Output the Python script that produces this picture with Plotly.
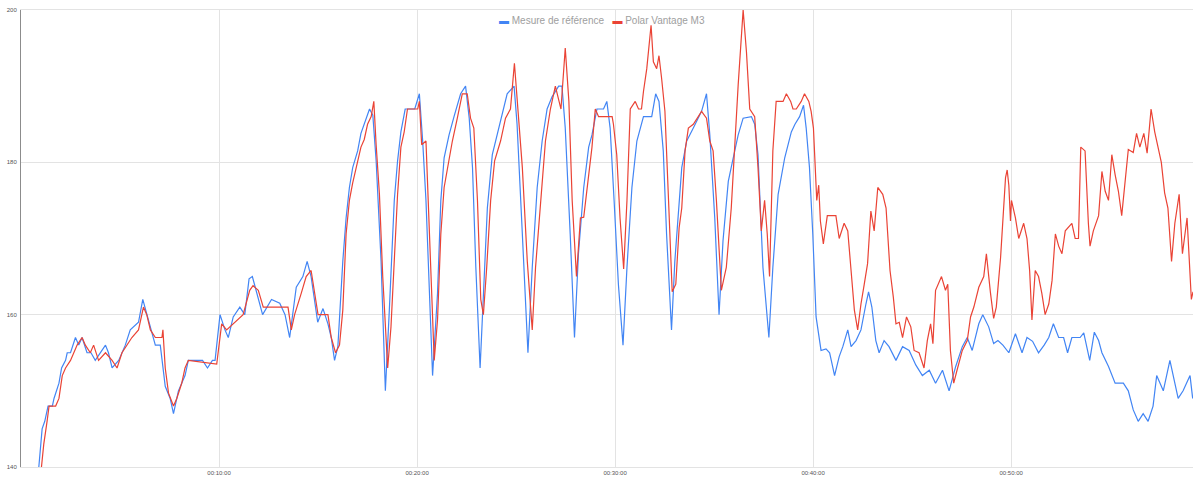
import plotly.graph_objects as go

# ---- Data (time in seconds since start, heart rate in bpm) ----
ref_name = "Mesure de référence"
ref_t = [54, 64, 72, 82, 95, 100, 115, 123, 135, 140, 150, 165, 175, 185, 200, 212, 225, 240, 256, 265,
         276, 296, 316, 331, 356, 369, 381, 396, 407, 422, 437, 452, 462, 477, 497, 507, 530, 550, 565, 580,
         588, 603, 618, 628, 643, 663, 678, 691, 701, 714, 732, 759, 784, 800, 814, 834, 854, 867, 879, 888,
         899, 915, 930, 940, 950, 960, 975, 985, 995, 1005, 1020, 1030, 1045, 1056, 1066, 1076, 1091, 1104, 1116, 1131,
         1141, 1151, 1164, 1181, 1193, 1207, 1217, 1227, 1237, 1247, 1262, 1272, 1282, 1297, 1312, 1332, 1347, 1358, 1368, 1378,
         1391, 1401, 1413, 1428, 1443, 1458, 1473, 1494, 1503, 1519, 1536, 1549, 1564, 1579, 1594, 1609, 1629, 1639, 1649, 1664,
         1677, 1689, 1705, 1720, 1730, 1745, 1765, 1775, 1785, 1797, 1810, 1824, 1836, 1851, 1866, 1886, 1911, 1923, 1933, 1946,
         1956, 1971, 1981, 2002, 2017, 2037, 2062, 2077, 2087, 2102, 2115, 2127, 2143, 2158, 2173, 2188, 2213, 2223, 2233, 2248,
         2266, 2278, 2294, 2314, 2334, 2345, 2359, 2371, 2379, 2389, 2399, 2409, 2414, 2424, 2439, 2450, 2459, 2465, 2479, 2490,
         2505, 2515, 2530, 2545, 2560, 2568, 2578, 2590, 2600, 2615, 2630, 2651, 2671, 2691, 2711, 2731, 2752, 2771, 2792, 2812,
         2832, 2852, 2867, 2882, 2902, 2914, 2932, 2947, 2960, 2975, 2993, 3013, 3033, 3048, 3065, 3083, 3100, 3114, 3128, 3144,
         3159, 3171, 3184, 3209, 3220, 3238, 3252, 3265, 3275, 3295, 3315, 3340, 3355, 3370, 3385, 3400, 3415, 3430, 3441, 3461,
         3481, 3496, 3506, 3521, 3542, 3550]
ref_hr = [140, 145, 146, 148, 148, 149, 151, 153, 154, 155, 155, 157, 156, 157, 155, 155, 154, 155, 156, 155,
          153, 154, 156, 158, 159, 162, 160, 157.5, 156, 156, 150.6, 149, 147, 150, 152, 154, 154, 154, 153, 154,
          154, 160, 158, 157, 159.7, 161, 160, 164.7, 165, 163, 160, 162, 161.5, 160, 157, 163.6, 165, 167, 165, 162.3,
          159, 160.8, 158.8, 157, 154, 155.8, 167, 172.7, 176.7, 179.3, 181.5, 183.8, 185.8, 187, 186.2, 180.2, 167, 150, 160.6, 175,
          180.2, 184, 187, 187, 187, 189, 182.8, 175, 164, 152, 162.8, 175, 180.6, 183.6, 186, 189, 190, 185.8, 179.3, 166.3,
          153, 162, 174, 181, 183.6, 186, 189, 190, 185, 170.6, 155, 166.2, 176.7, 182.8, 187, 188.6, 190, 190, 184.5, 170.6,
          157, 168, 176.7, 182, 183.6, 187, 187, 188, 184.5, 175, 164, 156, 166.2, 176.7, 182.8, 186, 186, 189, 188, 181.5,
          170.6, 158, 167, 179.3, 182.8, 184.5, 186.7, 189, 183.6, 172.7, 160, 169.7, 177.5, 180.6, 183.6, 185.8, 186, 185, 181, 166.2,
          157, 166.2, 175.8, 180.6, 184, 185, 186, 187.5, 184.5, 179.3, 170.6, 159.7, 158, 155.3, 155.5, 155, 153.2, 152, 154.5, 155.8,
          158, 155.8, 156.6, 158, 161.4, 163, 161, 156.6, 155, 156.6, 155.8, 154, 155.8, 155.3, 153.4, 152, 152.7, 151, 152.7, 150,
          153.2, 155.8, 157, 155.3, 158.8, 160, 158.4, 156.2, 156.6, 156, 155, 157.5, 155, 157, 156.5, 155, 156, 157, 158.8, 157,
          157, 155, 157, 157, 157.6, 154, 157.7, 156.6, 155, 153.2, 151, 151, 150, 147.5, 146, 147, 146, 148, 152, 150,
          154, 151, 149, 150, 152, 149]

polar_name = "Polar Vantage M3"
polar_t = [62, 69, 79, 85, 105, 115, 125, 135, 150, 160, 170, 185, 195, 210, 220, 235, 256, 276, 291, 306,
           321, 336, 356, 371, 381, 392, 407, 427, 430, 437, 447, 462, 472, 487, 497, 507, 593, 608, 623, 643,
           673, 693, 703, 719, 734, 784, 809, 819, 829, 849, 864, 879, 890, 900, 915, 930, 940, 953, 965, 975,
           985, 995, 1005, 1015, 1030, 1040, 1050, 1061, 1069, 1076, 1086, 1096, 1111, 1121, 1131, 1141, 1151, 1161, 1171, 1202,
           1207, 1214, 1227, 1234, 1242, 1252, 1262, 1272, 1282, 1292, 1307, 1322, 1337, 1352, 1362, 1372, 1383, 1393, 1401, 1411,
           1423, 1435, 1453, 1468, 1483, 1495, 1503, 1519, 1534, 1549, 1559, 1574, 1589, 1604, 1619, 1636, 1649, 1660, 1670, 1683,
           1695, 1705, 1720, 1730, 1740, 1750, 1791, 1795, 1805, 1815, 1826, 1836, 1846, 1861, 1871, 1880, 1886, 1896, 1909, 1916,
           1926, 1933, 1941, 1951, 1962, 1973, 1984, 1994, 2002, 2012, 2022, 2037, 2052, 2062, 2077, 2087, 2097, 2107, 2122, 2137,
           2152, 2162, 2173, 2188, 2198, 2208, 2223, 2233, 2243, 2253, 2261, 2268, 2278, 2288, 2309, 2319, 2332, 2339, 2349, 2364,
           2374, 2387, 2394, 2401, 2407, 2411, 2417, 2422, 2431, 2443, 2469, 2479, 2494, 2505, 2515, 2525, 2535, 2545, 2555, 2565,
           2575, 2585, 2596, 2611, 2621, 2633, 2643, 2651, 2661, 2671, 2683, 2696, 2706, 2721, 2736, 2746, 2756, 2763, 2771, 2789,
           2801, 2808, 2816, 2826, 2836, 2852, 2867, 2877, 2887, 2902, 2917, 2925, 2937, 2947, 2955, 2968, 2983, 2988, 2993, 2998,
           3001, 3013, 3023, 3038, 3048, 3056, 3063, 3073, 3083, 3093, 3103, 3114, 3124, 3134, 3144, 3154, 3164, 3184, 3194, 3204,
           3211, 3224, 3234, 3239, 3249, 3265, 3275, 3285, 3295, 3305, 3315, 3325, 3335, 3345, 3355, 3370, 3380, 3390, 3402, 3412,
           3424, 3435, 3445, 3455, 3465, 3475, 3486, 3496, 3509, 3519, 3533, 3546, 3551]
polar_hr = [140, 143, 146, 148, 148, 149, 152, 153, 154, 155, 156, 157, 156, 155, 156, 154, 155, 154, 153, 155,
            156, 157, 158, 161, 160, 158, 157, 157, 158, 153, 149.7, 148, 149, 151, 153, 154, 153.5, 158.8, 158, 158.8,
            160, 163.2, 163.8, 163.2, 161, 161, 161, 158, 160, 162.8, 165, 165.8, 162.8, 160, 160, 160, 157, 155, 156, 160.6,
            170.6, 175, 177.3, 179.3, 182, 183, 185, 186, 188, 182.3, 175.8, 165, 153, 158.4, 168, 175.8, 182, 184, 187, 187,
            188, 182.3, 182.8, 174, 164, 154, 159.3, 170.6, 176.7, 179.3, 182.8, 185.8, 189, 189, 185.8, 184.5, 175, 162, 160, 166.2,
            175, 180.2, 182.8, 185.8, 187, 193, 188, 179.3, 167, 158, 166.2, 175, 182.8, 187, 190, 187, 195, 188, 175, 165,
            172.7, 172.8, 178, 182, 187, 186, 186, 185, 181, 172.7, 166, 175, 187, 188, 187, 187, 189.3, 192.3, 198, 193.2,
            192.3, 194, 191, 186.7, 175, 163, 164, 171.4, 174, 181.5, 184.5, 185, 186, 186.7, 185.8, 182.8, 181.5, 175, 163.2, 166.2,
            174, 182, 190.2, 200, 194.5, 187, 186, 179.3, 171, 175, 170.6, 165, 181.5, 188, 188, 189, 188, 187, 187, 188,
            189, 188, 186.7, 184.5, 178, 175, 177, 172.3, 169.3, 173, 173, 170, 172, 171, 165.8, 160.6, 158, 161.4, 164, 166.7,
            173.6, 171, 176.7, 175.8, 174, 165.8, 162.3, 158.8, 159, 157, 159.7, 158.4, 155.3, 155, 153, 156.6, 158.8, 156.2, 163.2, 165,
            163.2, 164, 155.3, 151, 152.7, 155.3, 156.6, 159.7, 161, 163.6, 165, 168, 163, 159.5, 161, 167.5, 178, 179, 177, 172.3,
            175, 172.7, 170, 172, 170, 165.8, 159.3, 165.8, 165, 162.8, 160, 161.4, 164.5, 170.6, 169, 168, 171, 172, 170, 170,
            182, 181.5, 172, 169, 171, 173, 178.8, 176.2, 175, 181, 178.4, 176.2, 173, 177, 181.7, 181.3, 183.8, 182, 183.8, 181.2,
            187, 184, 182, 180, 176, 174, 167, 172, 175.8, 168, 172.7, 162, 163]

x_tick_vals = [600, 1200, 1800, 2400, 3000]
x_tick_text = ["00:10:00", "00:20:00", "00:30:00", "00:40:00", "00:50:00"]
y_tick_vals = [140, 160, 180, 200]

FONT = "Arial, Liberation Sans, sans-serif"
BLUE = "#4285f4"
RED = "#ea4335"

fig = go.Figure()
fig.add_trace(go.Scatter(x=ref_t, y=ref_hr, name=ref_name, mode="lines",
                         line=dict(color=BLUE, width=1.2)))
fig.add_trace(go.Scatter(x=polar_t, y=polar_hr, name=polar_name, mode="lines",
                         line=dict(color=RED, width=1.2)))

# Compact Google-Charts-style legend (short coloured dash + grey label)
legend_text = (f"<span style='color:{BLUE}'>▬</span> {ref_name}"
               f"&nbsp;&nbsp;&nbsp;<span style='color:{RED}'>▬</span> {polar_name}")
fig.add_annotation(text=legend_text, xref="paper", yref="paper", x=0.496, y=0.978,
                   xanchor="center", yanchor="middle", showarrow=False,
                   font=dict(family=FONT, size=10, color="#9e9e9e"))

fig.update_layout(
    width=1200, height=483,
    margin=dict(l=17, r=7, t=8, b=16),
    paper_bgcolor="white", plot_bgcolor="white",
    font=dict(family=FONT, size=6, color="#444"),
    showlegend=False,
)
fig.update_xaxes(range=[0, 3551], tickvals=x_tick_vals, ticktext=x_tick_text,
                 showgrid=True, gridcolor="#e3e3e3", gridwidth=1,
                 showline=True, linecolor="#e3e3e3", linewidth=1, mirror=True,
                 zeroline=False, ticks="", tickfont=dict(size=6, color="#555"))
fig.update_yaxes(range=[140, 200], tickvals=y_tick_vals,
                 showgrid=True, gridcolor="#e3e3e3", gridwidth=1,
                 showline=True, linecolor="#8c8c8c", linewidth=1,
                 zeroline=False, ticks="", ticklabelstandoff=2,
                 tickfont=dict(size=6, color="#555"))

fig.write_html("out.html")
